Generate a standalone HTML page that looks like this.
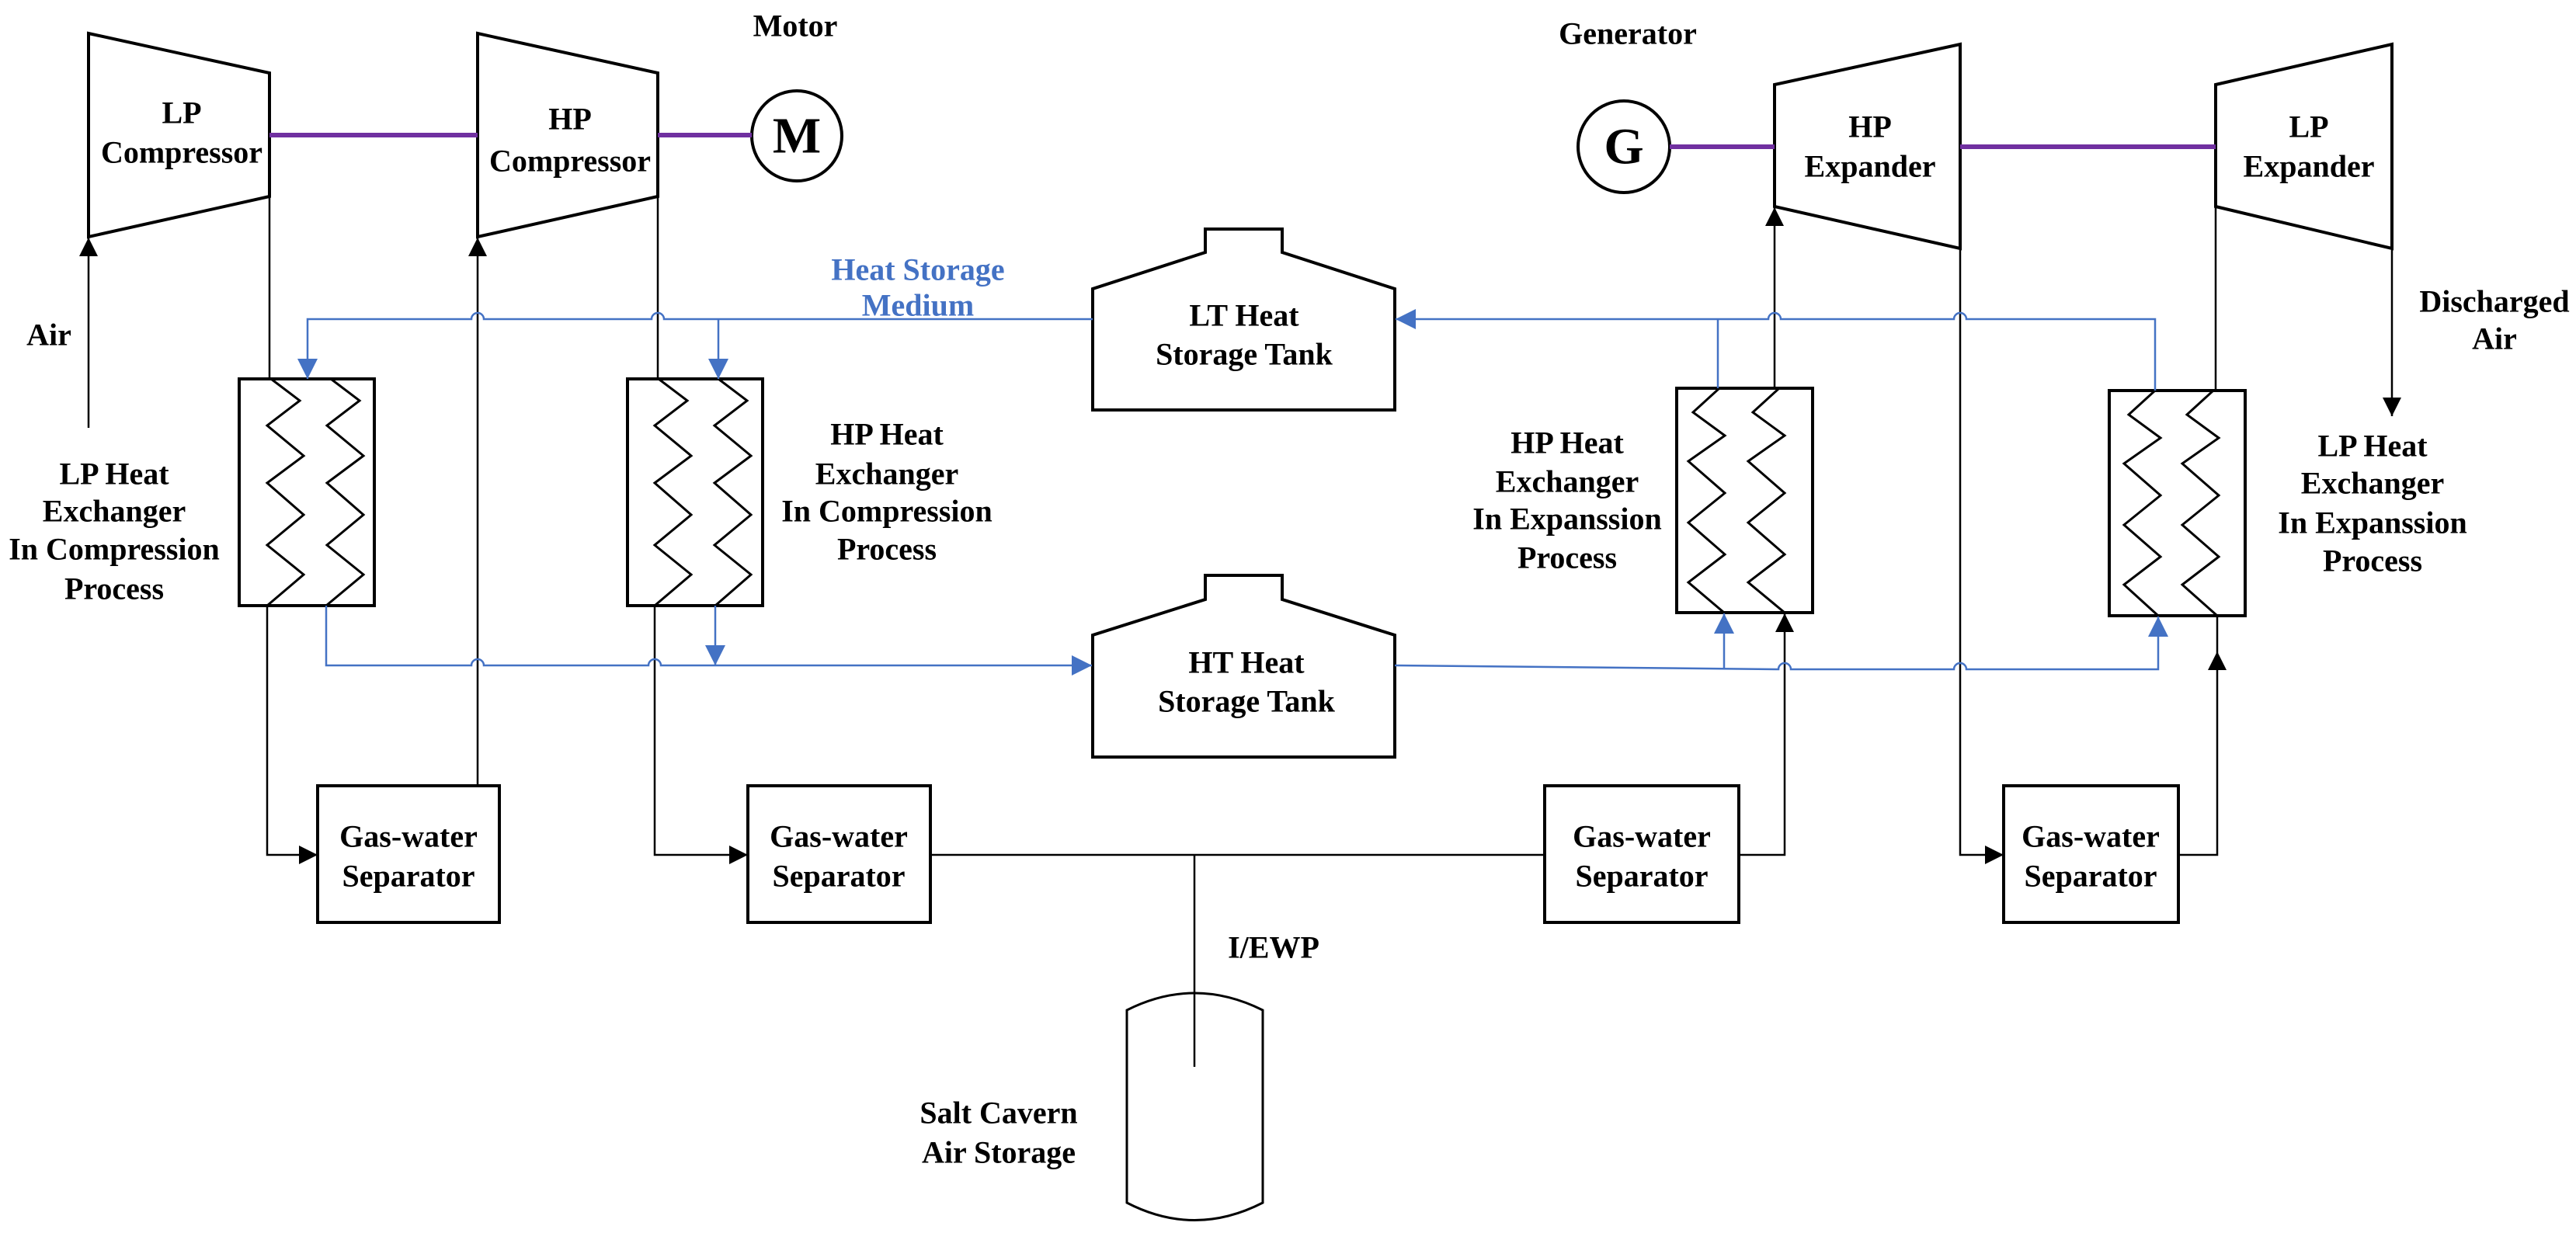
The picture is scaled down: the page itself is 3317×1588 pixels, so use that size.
<!DOCTYPE html>
<html><head><meta charset="utf-8"><style>
html,body{margin:0;padding:0;background:#fff;}
svg{display:block;}
text{font-family:"Liberation Serif","Times New Roman",serif;font-weight:bold;font-size:40px;fill:#000;text-anchor:middle;dominant-baseline:central;}
.b{fill:#4472c4;}
</style></head><body>
<svg width="3317" height="1588" viewBox="0 0 3317 1588" xmlns="http://www.w3.org/2000/svg" font-family="Liberation Serif, serif">
<defs>
<marker id="ak" viewBox="0 0 10 10" refX="10" refY="5" markerWidth="24" markerHeight="24" markerUnits="userSpaceOnUse" orient="auto"><path d="M0,0 L10,5 L0,10 z" fill="#000"/></marker>
<marker id="ab" viewBox="0 0 10 10" refX="10" refY="5" markerWidth="26" markerHeight="26" markerUnits="userSpaceOnUse" orient="auto"><path d="M0,0 L10,5 L0,10 z" fill="#4472c4"/></marker>
</defs>
<g fill="none" stroke="#000" stroke-width="4">
<polygon points="114,43 347,94 347,253 114,305"/>
<polygon points="615,43 847,94 847,253 615,305"/>
<polygon points="2285,109 2524,57 2524,320 2285,266"/>
<polygon points="2853,109 3080,57 3080,320 2853,266"/>
<circle cx="1026" cy="175" r="58"/>
<circle cx="2091" cy="189" r="59"/>
<rect x="308" y="488" width="174" height="292"/>
<rect x="808" y="488" width="174" height="292"/>
<rect x="2159" y="500" width="175" height="289"/>
<rect x="2716" y="503" width="175" height="290"/>
<polygon points="1552,295 1651,295 1651,325 1796,372 1796,528 1407,528 1407,372 1552,325"/>
<polygon points="1552,741 1651,741 1651,772 1796,818 1796,975 1407,975 1407,818 1552,772"/>
<rect x="409" y="1012" width="234" height="176"/>
<rect x="963" y="1012" width="235" height="176"/>
<rect x="1989" y="1012" width="250" height="176"/>
<rect x="2580" y="1012" width="225" height="176"/>
<path d="M1451,1301 Q1538,1257 1626,1301 L1626,1549 Q1538,1594 1451,1549 Z" stroke-width="3"/>
</g>
<g fill="none" stroke="#000" stroke-width="3">
<polyline points="349,488 386,516 344,548 391,587 344,622 391,663 344,702 391,740 344,780"/>
<polyline points="426,488 463,516 421,548 468,587 421,622 468,663 421,702 468,740 420,780"/>
<polyline points="848,488 885,516 843,548 890,587 843,622 890,663 843,702 890,740 843,780"/>
<polyline points="925,488 962,516 920,548 967,587 920,622 967,663 920,702 967,740 921,780"/>
<polyline points="2214,500 2180,531 2221,561 2174,594 2221,635 2174,673 2221,714 2174,750 2220,789"/>
<polyline points="2291,500 2257,531 2298,561 2251,594 2298,635 2251,673 2298,714 2251,750 2298,789"/>
<polyline points="2775,503 2741,534 2782,564 2735,597 2782,638 2735,676 2782,717 2735,753 2779,793"/>
<polyline points="2850,503 2816,534 2857,564 2810,597 2857,638 2810,676 2857,717 2810,753 2855,793"/>
</g>
<g stroke="#7030a0" stroke-width="6">
<line x1="347" y1="174" x2="615" y2="174"/>
<line x1="847" y1="174" x2="968" y2="174"/>
<line x1="2150" y1="189" x2="2285" y2="189"/>
<line x1="2524" y1="189" x2="2853" y2="189"/>
</g>
<g fill="none" stroke="#000" stroke-width="2.5">
<line x1="114" y1="551" x2="114" y2="306" marker-end="url(#ak)"/>
<line x1="615" y1="1012" x2="615" y2="306" marker-end="url(#ak)"/>
<line x1="347" y1="253" x2="347" y2="488"/>
<line x1="847" y1="253" x2="847" y2="488"/>
<polyline points="344,780 344,1101 409,1101" marker-end="url(#ak)"/>
<polyline points="843,780 843,1101 963,1101" marker-end="url(#ak)"/>
<line x1="1198" y1="1101" x2="1989" y2="1101"/>
<line x1="1538" y1="1101" x2="1538" y2="1374"/>
<polyline points="2239,1101 2298,1101 2298,790" marker-end="url(#ak)"/>
<line x1="2285" y1="500" x2="2285" y2="267" marker-end="url(#ak)"/>
<polyline points="2524,320 2524,1101 2580,1101" marker-end="url(#ak)"/>
<polyline points="2805,1101 2855,1101 2855,839" marker-end="url(#ak)"/>
<line x1="2855" y1="839" x2="2855" y2="793"/>
<line x1="2853" y1="503" x2="2853" y2="266"/>
<line x1="3080" y1="320" x2="3080" y2="536" marker-end="url(#ak)"/>
</g>
<g fill="none" stroke="#4472c4" stroke-width="2.5">
<path d="M1407,411 L855,411 A8,8 0 0 0 839,411 L623,411 A8,8 0 0 0 607,411 L396,411 L396,488" marker-end="url(#ab)"/>
<line x1="925" y1="411" x2="925" y2="488" marker-end="url(#ab)"/>
<path d="M2775,503 L2775,411 L2532,411 A8,8 0 0 0 2516,411 L2293,411 A8,8 0 0 0 2277,411 L1797,411" marker-end="url(#ab)"/>
<line x1="2212" y1="411" x2="2212" y2="500"/>
<path d="M420,780 L420,857 L607,857 A8,8 0 0 1 623,857 L835,857 A8,8 0 0 1 851,857 L1406,857" marker-end="url(#ab)"/>
<line x1="921" y1="780" x2="921" y2="857" marker-end="url(#ab)"/>
<path d="M1796,857 L2290,862 A8,8 0 0 1 2306,862 L2516,862 A8,8 0 0 1 2532,862 L2779,862 L2779,794" marker-end="url(#ab)"/>
<line x1="2220" y1="862" x2="2220" y2="790" marker-end="url(#ab)"/>
</g>
<text x="234" y="145">LP</text><text x="234" y="196">Compressor</text>
<text x="734" y="153">HP</text><text x="734" y="207">Compressor</text>
<text x="1024" y="33">Motor</text>
<text x="1026" y="175" style="font-size:66px">M</text>
<text x="2096" y="43">Generator</text>
<text x="2091" y="189" style="font-size:66px">G</text>
<text x="2408" y="163">HP</text><text x="2408" y="214">Expander</text>
<text x="2973" y="163">LP</text><text x="2973" y="214">Expander</text>
<text x="63" y="431">Air</text>
<text x="3212" y="388">Discharged</text><text x="3212" y="436">Air</text>
<text class="b" x="1182" y="347">Heat Storage</text><text class="b" x="1182" y="393">Medium</text>
<text x="1602" y="406">LT Heat</text><text x="1602" y="456">Storage Tank</text>
<text x="1605" y="853">HT Heat</text><text x="1605" y="903">Storage Tank</text>
<text x="147" y="610">LP Heat</text><text x="147" y="658">Exchanger</text><text x="147" y="707">In Compression</text><text x="147" y="758">Process</text>
<text x="1142" y="559">HP Heat</text><text x="1142" y="610">Exchanger</text><text x="1142" y="658">In Compression</text><text x="1142" y="707">Process</text>
<text x="2018" y="570">HP Heat</text><text x="2018" y="620">Exchanger</text><text x="2018" y="668">In Expanssion</text><text x="2018" y="718">Process</text>
<text x="3055" y="574">LP Heat</text><text x="3055" y="622">Exchanger</text><text x="3055" y="673">In Expanssion</text><text x="3055" y="722">Process</text>
<text x="526" y="1077">Gas-water</text><text x="526" y="1128">Separator</text>
<text x="1080" y="1077">Gas-water</text><text x="1080" y="1128">Separator</text>
<text x="2114" y="1077">Gas-water</text><text x="2114" y="1128">Separator</text>
<text x="2692" y="1077">Gas-water</text><text x="2692" y="1128">Separator</text>
<text x="1640" y="1220">I/EWP</text>
<text x="1286" y="1433">Salt Cavern</text><text x="1286" y="1484">Air Storage</text>
</svg>
</body></html>
